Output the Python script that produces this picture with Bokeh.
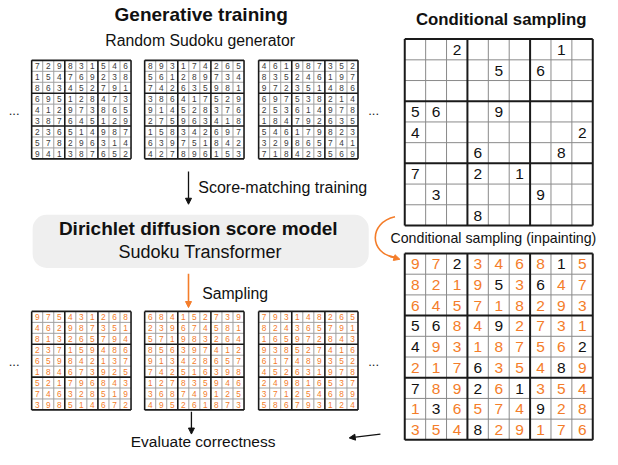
from bokeh.plotting import figure
from bokeh.models import Range1d, Arrow, NormalHead, BoxAnnotation
from bokeh.core.properties import value
from bokeh.embed import file_html
from bokeh.resources import INLINE

# ---------------- data ----------------
TRAIN_A = ["729831546", "154769238", "863452791", "695128473", "412973865",
           "387645129", "236514987", "578296314", "941387652"]
TRAIN_B = ["893174265", "561289734", "742635981", "386417529", "914528376",
           "275963418", "158342697", "639751842", "427896153"]
TRAIN_C = ["461987352", "835246197", "972351486", "697538214", "253614978",
           "184792635", "546179823", "329865741", "718423569"]
SAMPLE_A = ["975431268", "462987351", "813265794", "237159486", "659842137",
            "184673925", "521796843", "746328519", "398514672"]
SAMPLE_B = ["684152739", "239674581", "571983264", "856397412", "913428657",
            "742516398", "127835946", "368749125", "495261873"]
SAMPLE_C = ["793148265", "824365791", "165972843", "938527416", "617489352",
            "452631978", "249816537", "371254689", "586793124"]
PUZZLE = ["002000010", "000050600", "000000000", "560090000", "400000002",
          "000600080", "700201000", "030000900", "000800000"]
SOLUTION = ["972346815", "821953647", "645718293", "568492731", "493187562",
            "217635489", "789261354", "136574928", "354829176"]

ORANGE = "#f47d2a"
FONT = value("Liberation Sans")

p = figure(width=602, height=449, x_range=Range1d(0, 618), y_range=Range1d(465, 0),
           output_backend="svg", toolbar_location=None, min_border=0,
           x_axis_location=None, y_axis_location=None)
p.grid.visible = False
p.outline_line_color = None
p.background_fill_color = "white"
p.border_fill_color = "white"


def draw_grid(x0, y0, size, rows, colors, fsize, thin_col, thin_w, thick_w):
    c = size / 9.0
    xs, ys = [], []
    for i in range(10):
        if i % 3:
            xs.append([x0 + i * c, x0 + i * c]); ys.append([y0, y0 + size])
            xs.append([x0, x0 + size]); ys.append([y0 + i * c, y0 + i * c])
    p.multi_line(xs, ys, line_color=thin_col, line_width=thin_w)
    xs, ys = [], []
    for i in range(0, 10, 3):
        xs.append([x0 + i * c, x0 + i * c]); ys.append([y0, y0 + size])
        xs.append([x0, x0 + size]); ys.append([y0 + i * c, y0 + i * c])
    p.multi_line(xs, ys, line_color="#1a1a1a", line_width=thick_w)
    tx, ty, tt, tc = [], [], [], []
    for r, row in enumerate(rows):
        for k, ch in enumerate(row):
            if ch != "0":
                tx.append(x0 + (k + 0.5) * c)
                ty.append(y0 + (r + 0.5) * c + 0.5)
                tt.append(ch)
                tc.append(colors[r][k])
    p.text(x=tx, y=ty, text=tt, text_color=tc, text_font=FONT,
           text_font_size=f"{fsize}px", text_align="center", text_baseline="middle")


def uniform(col):
    return [[col] * 9 for _ in range(9)]


SMALL = 102
for gx, g in zip([32, 148, 265], [TRAIN_A, TRAIN_B, TRAIN_C]):
    draw_grid(gx, 62, SMALL, g, uniform("#3a3a3a"), 8.3, "#a0a0a0", 1, 1.6)
for gx, g in zip([32, 148, 265], [SAMPLE_A, SAMPLE_B, SAMPLE_C]):
    draw_grid(gx, 322, SMALL, g, uniform(ORANGE), 8.3, "#a0a0a0", 1, 1.6)

BIG = 193
draw_grid(415, 40, BIG, PUZZLE, uniform("#111111"), 15.5, "#8a8a8a", 1, 2)
sol_colors = [["#111111" if PUZZLE[r][k] != "0" else ORANGE for k in range(9)] for r in range(9)]
draw_grid(415, 262, BIG, SOLUTION, sol_colors, 15.5, "#8a8a8a", 1, 2)

# ellipses
p.text(x=[14, 383, 14, 383], y=[114, 114, 374, 374], text=["..."] * 4, text_font=FONT,
       text_font_size="13px", text_align="center", text_baseline="middle", text_color="#222222")

# model box
p.add_layout(BoxAnnotation(left=33, right=378, top=222, bottom=277, border_radius=14,
                           fill_color="#efefef", fill_alpha=1, line_color=None, level="underlay"))


def label(x, y, s, size, bold=False, align="center", color="#111111"):
    p.text(x=[x], y=[y], text=[s], text_font=FONT, text_font_size=f"{size}px",
           text_font_style="bold" if bold else "normal", text_align=align,
           text_baseline="middle", text_color=color)


label(206, 14.5, "Generative training", 19, bold=True)
label(205, 41, "Random Sudoku generator", 15.8)
label(514, 20, "Conditional sampling", 16.8, bold=True)
label(203, 194, "Score-matching training", 16, align="left")
label(203, 236.5, "Dirichlet diffusion score model", 19, bold=True)
label(205, 260, "Sudoku Transformer", 18)
label(207, 303.5, "Sampling", 15.8, align="left")
label(208, 457, "Evaluate correctness", 15.5)
label(506, 246, "Conditional sampling (inpainting)", 14.2)

# arrows
p.add_layout(Arrow(end=NormalHead(size=6, fill_color="#111111", line_color="#111111"),
                   x_start=193, y_start=177, x_end=193, y_end=211,
                   line_color="#111111", line_width=1.3))
p.add_layout(Arrow(end=NormalHead(size=6, fill_color=ORANGE, line_color=ORANGE),
                   x_start=193, y_start=283, x_end=193, y_end=318,
                   line_color=ORANGE, line_width=1.6))
p.add_layout(Arrow(end=NormalHead(size=6, fill_color="#111111", line_color="#111111"),
                   x_start=196, y_start=426, x_end=196, y_end=449,
                   line_color="#111111", line_width=1.3))
p.add_layout(Arrow(end=NormalHead(size=6, fill_color="#111111", line_color="#111111"),
                   x_start=390, y_start=449, x_end=358, y_end=453,
                   line_color="#111111", line_width=1.3))

# curved orange arrow
p.bezier(x0=[405], y0=[224], x1=[405], y1=[266], cx0=[378], cy0=[230], cx1=[378], cy1=[262],
         line_color=ORANGE, line_width=1.6)
p.add_layout(Arrow(end=NormalHead(size=6, fill_color=ORANGE, line_color=ORANGE),
                   x_start=400, y_start=265, x_end=410, y_end=268,
                   line_color=ORANGE, line_width=1.6))

open("out.html", "w").write(file_html(p, INLINE))
